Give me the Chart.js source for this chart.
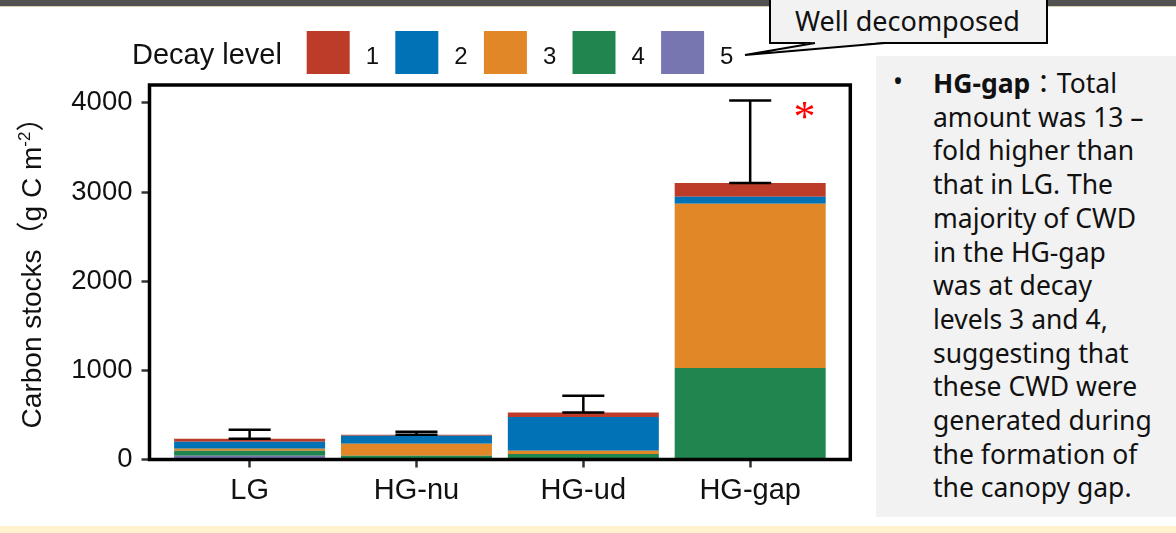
<!DOCTYPE html>
<html>
<head>
<meta charset="utf-8">
<script src="https://cdn.jsdelivr.net/npm/chart.js@4/dist/chart.umd.min.js"></script>
<style>
  html, body { margin: 0; padding: 0; background: #fff; }
  body { width: 1176px; height: 533px; position: relative; overflow: hidden; }
  #chartBox { position: absolute; left: 0; top: 0; width: 1176px; height: 533px; }
  .band { position: absolute; left: 0; top: 0; width: 1176px; height: 6px; background: #525252; border-bottom: 1px solid #d8d0ad; }
  .strip { position: absolute; left: 0; top: 526px; width: 1176px; height: 7px; background: #FFF2CC; }
  .note { position: absolute; left: 876px; top: 56px; width: 300px; height: 461px; background: #F2F2F2;
          font-family: "Noto Sans", "Noto Sans CJK KR", sans-serif; font-size: 26.5px; line-height: 33.7px; color: #111; }
  .note .dot { position: absolute; left: 17px; top: 9px; }
  .note .txt { position: absolute; left: 57px; top: 9px; white-space: nowrap; }
  .note b { font-weight: 700; }
  .note .colon { font-family: "Noto Sans CJK KR", sans-serif; }
  svg.callout { position: absolute; left: 0; top: 0; overflow: visible; }
</style>
</head>
<body>
<div class="band"></div>
<div id="chartBox"><canvas id="stocks" width="1176" height="533"></canvas></div>
<svg class="callout" width="1176" height="70">
  <rect x="770" y="-6" width="277" height="49" fill="#F2F2F2" stroke="#000" stroke-width="2"/>
  <polygon points="815,42 745,55 885,42" fill="#F2F2F2" stroke="none"/>
  <polyline points="815,43 745,55 885,43" fill="none" stroke="#000" stroke-width="1.8"/>
  <text x="795" y="31" font-family="Noto Sans, sans-serif" font-size="27" fill="#111">Well decomposed</text>
</svg>
<div class="note">
  <span class="dot">•</span>
  <div class="txt"><b>HG-gap</b><span class="colon">：</span>Total<br>amount was 13 –<br>fold higher than<br>that in LG. The<br>majority of CWD<br>in the HG-gap<br>was at decay<br>levels 3 and 4,<br>suggesting that<br>these CWD were<br>generated during<br>the formation of<br>the canopy gap.</div>
</div>
<div class="strip"></div>

<script>
// Sites and carbon stocks of coarse woody debris by decay level (g C m-2)
const categories = ['LG', 'HG-nu', 'HG-ud', 'HG-gap'];
const decay1 = [34, 11, 49, 154];
const decay2 = [78, 90, 378, 78];
const decay3 = [22, 134, 37, 1842];
const decay4 = [56, 43, 62, 1026];
const decay5 = [43, 0, 0, 0];
// upper standard error added on top of each stacked total
const seUpper = [101, 34, 190, 927];
const yTickValues = [0, 1000, 2000, 3000, 4000];
const decayLabels = ['1', '2', '3', '4', '5'];

const decayColors = ['#BC3C29', '#0072B5', '#E18727', '#20854E', '#7876B1'];
const decaySeries = [decay1, decay2, decay3, decay4, decay5];
const SANS = '"Liberation Sans", Arial, sans-serif';

// stack from level 5 at the bottom up to level 1 on top
const datasets = [4, 3, 2, 1, 0].map(k => ({
  label: decayLabels[k],
  data: decaySeries[k].map((v, i) => ({ x: i, y: v })),
  backgroundColor: decayColors[k],
  borderWidth: 0,
  barPercentage: 0.905,
  categoryPercentage: 1.0
}));

const errorBars = {
  id: 'errorBars',
  afterDatasetsDraw(chart) {
    const { ctx, scales: { x, y } } = chart;
    ctx.save();
    ctx.strokeStyle = '#000';
    ctx.lineWidth = 2.5;
    categories.forEach((c, i) => {
      const total = decaySeries.reduce((s, arr) => s + arr[i], 0);
      const yb = y.getPixelForValue(total);
      const yt = y.getPixelForValue(total + seUpper[i]);
      const xc = x.getPixelForValue(i);
      const xl = x.getPixelForValue(i - 0.126);
      const xr = x.getPixelForValue(i + 0.126);
      ctx.beginPath();
      ctx.moveTo(xc, yb); ctx.lineTo(xc, yt);
      ctx.moveTo(xl, yt); ctx.lineTo(xr, yt);
      ctx.moveTo(xl, yb); ctx.lineTo(xr, yb);
      ctx.stroke();
    });
    ctx.restore();
  }
};

const panelFrame = {
  id: 'panelFrame',
  afterDatasetsDraw(chart) {
    const { ctx, chartArea: a } = chart;
    ctx.save();
    ctx.strokeStyle = '#000';
    ctx.lineWidth = 3.5;
    ctx.strokeRect(a.left, a.top, a.right - a.left, a.bottom - a.top);
    ctx.restore();
  }
};

// significance mark above the HG-gap bar
const sigMark = {
  id: 'sigMark',
  afterDraw(chart) {
    const { ctx, scales: { x, y } } = chart;
    ctx.save();
    ctx.fillStyle = '#FF0000';
    ctx.font = '44px "Liberation Serif", serif';
    ctx.textAlign = 'center';
    ctx.textBaseline = 'middle';
    ctx.fillText('*', x.getPixelForValue(3.325), y.getPixelForValue(3907) + 8);
    ctx.restore();
  }
};

// horizontal legend with its title on the left
const decayLegend = {
  id: 'decayLegend',
  afterDraw(chart) {
    const ctx = chart.ctx;
    ctx.save();
    ctx.fillStyle = '#111';
    ctx.textBaseline = 'alphabetic';
    ctx.font = '29px ' + SANS;
    ctx.fillText('Decay level', 132, 63.5);
    const items = chart.data.datasets.slice().sort((a, b) => a.label.localeCompare(b.label));
    ctx.font = '24px ' + SANS;
    items.forEach((ds, j) => {
      const bx = 306.7 + j * 88.6;
      ctx.fillStyle = ds.backgroundColor;
      ctx.fillRect(bx, 31, 43, 43);
      ctx.fillStyle = '#111';
      ctx.fillText(ds.label, bx + 59, 63.5);
    });
    ctx.restore();
  }
};

// rotated y-axis title with full-width brackets and a superscript
const yTitle = {
  id: 'yTitle',
  afterDraw(chart) {
    const ctx = chart.ctx;
    const parts = [
      { t: 'Carbon stocks', f: '28px ' + SANS, dy: 0 },
      { t: '（', f: '28px "Noto Sans CJK SC", sans-serif', dy: 0 },
      { t: 'g C m', f: '28px ' + SANS, dy: 0 },
      { t: '-2', f: '17px ' + SANS, dy: -11 },
      { t: '）', f: '28px "Noto Sans CJK SC", sans-serif', dy: 0 }
    ];
    ctx.save();
    let total = 0;
    parts.forEach(p => { ctx.font = p.f; p.w = ctx.measureText(p.t).width; total += p.w; });
    ctx.translate(41, 266);
    ctx.rotate(-Math.PI / 2);
    ctx.fillStyle = '#111';
    ctx.textBaseline = 'alphabetic';
    let cx = -total / 2;
    parts.forEach(p => { ctx.font = p.f; ctx.fillText(p.t, cx, p.dy); cx += p.w; });
    ctx.restore();
  }
};

new Chart(document.getElementById('stocks'), {
  type: 'bar',
  data: { datasets },
  options: {
    responsive: false,
    devicePixelRatio: 1,
    animation: false,
    layout: { padding: { top: 85, right: 325.7, bottom: 0, left: 0 } },
    plugins: { legend: { display: false }, tooltip: { enabled: false } },
    scales: {
      x: {
        type: 'linear',
        stacked: true,
        offset: false,
        min: -0.6,
        max: 3.6,
        afterBuildTicks: s => { s.ticks = categories.map((c, i) => ({ value: i })); },
        afterFit: s => { s.height = 73.5; },
        border: { display: false },
        grid: { offset: false, drawOnChartArea: false, drawTicks: true, tickLength: 8, tickColor: '#333', tickWidth: 2.5, color: '#333' },
        ticks: {
          autoSkip: false, maxRotation: 0, padding: 6,
          color: '#111', font: { family: SANS, size: 29 },
          callback: (v, i) => categories[i]
        }
      },
      y: {
        stacked: true,
        min: 0,
        max: 4200,
        afterBuildTicks: s => { s.ticks = yTickValues.map(v => ({ value: v })); },
        afterFit: s => { s.width = 149.5; },
        border: { display: false },
        grid: { drawOnChartArea: false, drawTicks: true, tickLength: 8, tickColor: '#333', tickWidth: 2.5, color: '#333' },
        ticks: {
          padding: 9, color: '#111', font: { family: SANS, size: 27.5 },
          callback: v => String(v)
        }
      }
    }
  },
  plugins: [errorBars, panelFrame, sigMark, decayLegend, yTitle]
});
</script>
</body>
</html>
